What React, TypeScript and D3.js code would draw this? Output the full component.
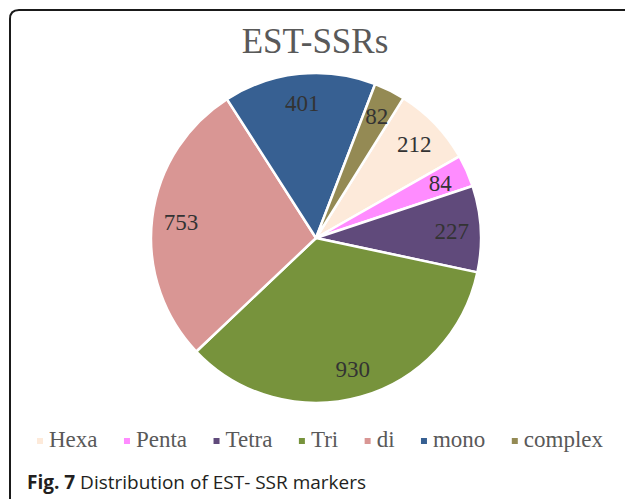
import React, { useEffect, useRef } from "react";
import * as d3 from "d3";

const categories = ["Hexa", "Penta", "Tetra", "Tri", "di", "mono", "complex"];
const values = [212, 84, 227, 930, 753, 401, 82];
const colors = ["#FDEADA", "#FF8CFF", "#604A7B", "#77933C", "#D99694", "#376092", "#948A54"];
const title = "EST-SSRs";
const captionBold = "Fig. 7";
const captionText = " Distribution of EST- SSR markers";

const W = 625;
const H = 499;

export default function App() {
  const ref = useRef<SVGSVGElement | null>(null);

  useEffect(() => {
    const svg = d3.select(ref.current);
    svg.selectAll("*").remove();

    // frame
    svg
      .append("path")
      .attr("d", `M10,${H} L10,19 Q10,10 19,10 L${W},10`)
      .attr("fill", "none")
      .attr("stroke", "#1a1a1a")
      .attr("stroke-width", 2);

    // title
    svg
      .append("text")
      .attr("x", 315)
      .attr("y", 53)
      .attr("text-anchor", "middle")
      .attr("font-family", "'Liberation Serif', 'Times New Roman', serif")
      .attr("font-size", 35)
      .attr("fill", "#595959")
      .text(title);

    const cx = 316;
    const cy = 238;
    const r = 165;
    const start = (32 * Math.PI) / 180;
    const data = categories.map((c, i) => ({ c, v: values[i], col: colors[i] }));
    const pie = d3
      .pie<any>()
      .sort(null)
      .value((d: any) => d.v)
      .startAngle(start)
      .endAngle(start + 2 * Math.PI);
    const arcs = pie(data);
    const arc = d3.arc<any>().innerRadius(0).outerRadius(r);
    const labelArc = d3.arc<any>().innerRadius(136).outerRadius(136);

    const g = svg.append("g").attr("transform", `translate(${cx},${cy})`);
    g.selectAll("path.slice")
      .data(arcs)
      .enter()
      .append("path")
      .attr("class", "slice")
      .attr("d", arc as any)
      .attr("fill", (d: any) => d.data.col)
      .attr("stroke", "#ffffff")
      .attr("stroke-width", 2.5)
      .attr("stroke-linejoin", "round");

    g.selectAll("text.lbl")
      .data(arcs)
      .enter()
      .append("text")
      .attr("class", "lbl")
      .attr("transform", (d: any) => {
        const [x, y] = labelArc.centroid(d);
        return `translate(${x},${y})`;
      })
      .attr("text-anchor", "middle")
      .attr("dy", "0.35em")
      .attr("font-family", "'Liberation Serif', 'Times New Roman', serif")
      .attr("font-size", 23)
      .attr("fill", "#333333")
      .text((d: any) => String(d.data.v));

    // legend
    const lg = svg.append("g");
    const fontSize = 23;
    const items = lg
      .selectAll("g.item")
      .data(data)
      .enter()
      .append("g")
      .attr("class", "item");
    items
      .append("rect")
      .attr("x", 0)
      .attr("y", -9)
      .attr("width", 6)
      .attr("height", 6)
      .attr("fill", (d: any) => d.col);
    items
      .append("text")
      .attr("x", 12)
      .attr("y", 0)
      .attr("font-family", "'Liberation Serif', 'Times New Roman', serif")
      .attr("font-size", fontSize)
      .attr("fill", "#595959")
      .text((d: any) => d.c);
    const widths: number[] = [];
    items.each(function () {
      const t = d3.select(this).select("text").node() as SVGTextElement;
      widths.push(12 + t.getComputedTextLength());
    });
    const left = 37;
    const right = 603;
    const sum = widths.reduce((a, b) => a + b, 0);
    const gap = (right - left - sum) / (widths.length - 1);
    items.attr("transform", (_d: any, i: number) => {
      const x = left + widths.slice(0, i).reduce((a, b) => a + b, 0) + gap * i;
      return `translate(${x},447)`;
    });

    // caption
    const cap = svg
      .append("text")
      .attr("x", 27)
      .attr("y", 489)
      .attr("font-family", "'Open Sans', 'Noto Sans', sans-serif")
      .attr("font-size", 19)
      .attr("fill", "#231f20");
    cap.append("tspan").attr("font-weight", "bold").text(captionBold);
    cap.append("tspan").text(captionText);
  }, []);

  return (
    <svg
      ref={ref}
      width={W}
      height={H}
      style={{ position: "absolute", left: 0, top: 0, background: "#ffffff" }}
    />
  );
}
